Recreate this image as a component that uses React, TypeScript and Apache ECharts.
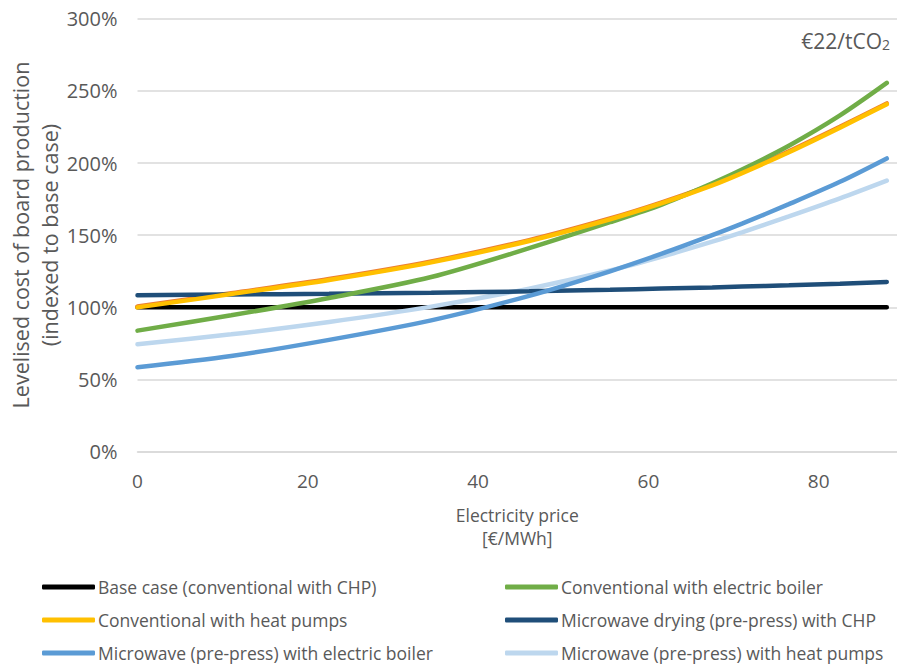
import React, { useEffect, useRef } from "react";
import * as echarts from "echarts";

const xs = [0, 11, 22.5, 34.5, 46, 55.5, 61.5, 67.5, 71, 76.5, 82.5, 88];
const baseCase = [100, 100, 100, 100, 100, 100, 100, 100, 100, 100, 100, 100];
const convElectricBoiler = [83.9, 94.5, 106.5, 121, 141, 159, 171, 186, 195.5, 212, 233, 255.5];
const convHeatPumps = [100, 109.2, 119, 131.2, 146, 161, 172, 184.5, 193, 207.5, 224.5, 240.7];
const convHeatPumpsShadow = [100.6, 109.8, 119.6, 131.8, 146.6, 161.6, 172.6, 185.1, 193.6, 208.1, 225.1, 241.3];
const mwDryingCHP = [108.4, 108.9, 109.4, 110.1, 111.1, 112.2, 113, 113.8, 114.4, 115.3, 116.4, 117.6];
const mwElectricBoiler = [58.5, 66.3, 77.5, 91, 108, 125, 137, 150, 158, 171.5, 187, 203.2];
const mwHeatPumps = [74.4, 81.3, 89.9, 100.5, 113, 125.5, 135, 145.5, 152, 163, 175.5, 187.8];

const seriesNames = [
  "Base case (conventional with CHP)",
  "Conventional with electric boiler",
  "Conventional with heat pumps",
  "Microwave drying (pre-press) with CHP",
  "Microwave (pre-press) with electric boiler",
  "Microwave (pre-press) with heat pumps",
];
const seriesColors = ["#000000", "#70AD47", "#FFC000", "#1F4E79", "#5B9BD5", "#BDD7EE"];
const yTicks = [0, 50, 100, 150, 200, 250, 300];
const yTitle = "Levelised cost of board production\n(indexed to base case)";
const xTitle = "Electricity price\n[€/MWh]";

const FONT = "'Open Sans', 'Noto Sans', sans-serif";
const GREY = "#595959";

export default function App() {
  const ref = useRef<HTMLDivElement>(null);
  useEffect(() => {
    if (!ref.current) return;
    const chart = echarts.init(ref.current, undefined, { renderer: "svg" });
    const pair = (vals: number[]) => xs.map((x, i) => [x, vals[i]]);
    const mk = (name: string, vals: number[], color: string, z: number) => ({
      name,
      type: "line",
      data: pair(vals),
      smooth: 0.3,
      showSymbol: false,
      symbol: "none",
      z,
      lineStyle: { color, width: 4.5, cap: "round" },
      itemStyle: { color },
      emphasis: { disabled: true },
    });
    const allVals = [baseCase, convElectricBoiler, convHeatPumps, mwDryingCHP, mwElectricBoiler, mwHeatPumps];
    const zs = [3, 5, 5, 4, 4, 3];
    const legendPos = [
      [42, 577],
      [505, 577],
      [42, 610],
      [505, 610],
      [42, 643],
      [505, 643],
    ];
    chart.setOption({
      animation: false,
      textStyle: { fontFamily: FONT },
      grid: {
        left: 137.5,
        right: 0,
        top: 18.7,
        bottom: 215.3,
        containLabel: false,
        outerBoundsMode: "none",
      },
      xAxis: {
        type: "value",
        min: 0,
        max: 89.2,
        interval: 20,
        name: xTitle,
        nameLocation: "middle",
        nameGap: 52,
        nameTextStyle: { color: GREY, fontSize: 17.5, lineHeight: 23, fontFamily: FONT },
        axisLine: { show: true, lineStyle: { color: "#D9D9D9", width: 1.5 } },
        axisTick: { show: false },
        splitLine: { show: false },
        axisLabel: {
          color: GREY,
          fontSize: 19,
          margin: 20,
          fontFamily: FONT,
          showMaxLabel: false,
          formatter: (v: number) => (v % 20 === 0 ? String(v) : ""),
        },
      },
      yAxis: {
        type: "value",
        min: yTicks[0],
        max: yTicks[yTicks.length - 1],
        interval: 50,
        axisLine: { show: false },
        axisTick: { show: false },
        splitLine: { show: true, lineStyle: { color: "#D9D9D9", width: 1.5 } },
        axisLabel: { color: GREY, fontSize: 20, margin: 20, fontFamily: FONT, formatter: "{value}%" },
      },
      legend: seriesNames.map((n, i) => ({
        left: legendPos[i][0],
        top: legendPos[i][1],
        orient: "horizontal",
        icon: "roundRect",
        itemWidth: 53,
        itemHeight: 5,
        padding: 0,
        textStyle: { color: GREY, fontSize: 17.5, lineHeight: 20, fontFamily: FONT, padding: [0, 0, 0, -2] },
        data: [n],
      })),
      graphic: [
        {
          type: "text",
          x: 35,
          y: 235,
          rotation: Math.PI / 2,
          style: {
            text: yTitle,
            fill: GREY,
            fontSize: 21.5,
            lineHeight: 29,
            fontFamily: FONT,
            align: "center",
            verticalAlign: "middle",
          },
        },
        {
          type: "text",
          right: 7,
          top: 29,
          style: {
            text: "{a|€22/tCO}{s|2}",
            rich: {
              a: { fontSize: 21, fill: GREY, fontFamily: FONT, verticalAlign: "bottom", lineHeight: 28 },
              s: { fontSize: 14, fill: GREY, fontFamily: FONT, verticalAlign: "bottom", lineHeight: 20, padding: [8, 0, 0, 0] },
            },
          },
        },
      ],
      series: [
        {
          name: "_orange",
          type: "line",
          data: pair(convHeatPumpsShadow),
          smooth: 0.3,
          showSymbol: false,
          symbol: "none",
          z: 4,
          lineStyle: { color: "#ED7D31", width: 4.5, cap: "round" },
          emphasis: { disabled: true },
        },
        ...seriesNames.map((n, i) => mk(n, allVals[i], seriesColors[i], zs[i])),
      ],
    });
    return () => chart.dispose();
  }, []);
  return (
    <div
      ref={ref}
      style={{ position: "fixed", left: 0, top: 0, width: 897, height: 667, background: "#ffffff" }}
    />
  );
}
